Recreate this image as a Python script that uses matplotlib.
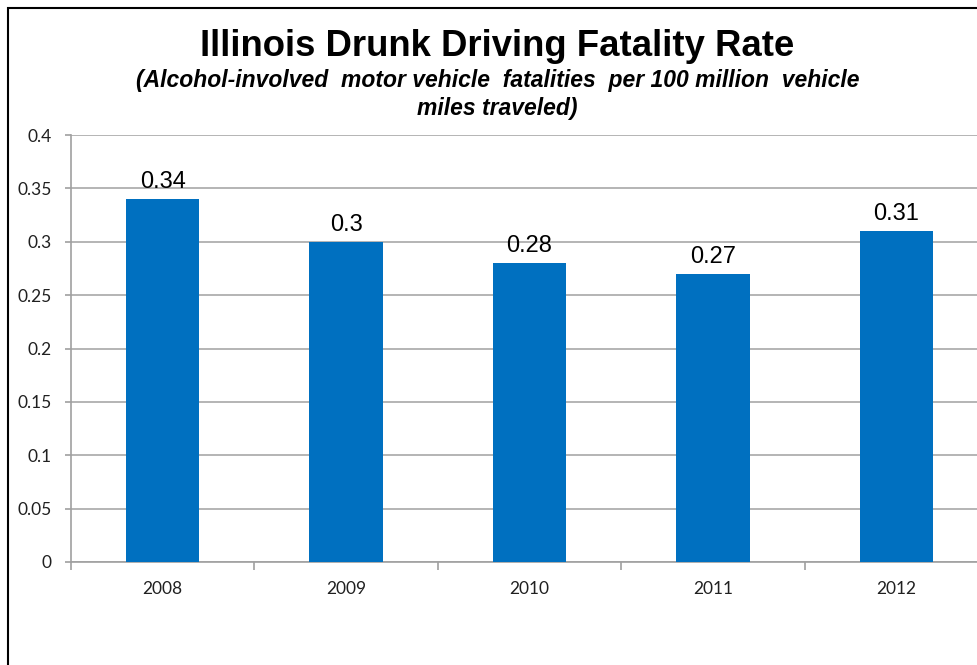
import matplotlib
matplotlib.use('Agg')
import matplotlib.pyplot as plt
from matplotlib.patches import Rectangle
from matplotlib.ticker import FixedLocator

# drunk driving fatality rate per 100 million VMT, Illinois
years = ['2008', '2009', '2010', '2011', '2012']
rates = [0.34, 0.30, 0.28, 0.27, 0.31]
rate_labels = ['0.34', '0.3', '0.28', '0.27', '0.31']
y_ticks = [0, 0.05, 0.1, 0.15, 0.2, 0.25, 0.3, 0.35, 0.4]
y_tick_labels = ['0', '0.05', '0.1', '0.15', '0.2', '0.25', '0.3', '0.35', '0.4']

W, H = 977, 665
fig = plt.figure(figsize=(W/100, H/100), dpi=100)

# outer chart border, runs off the right and bottom edges
fig.patches.append(Rectangle((8/W, -0.1), 1.2, 1.1 - 8/H, transform=fig.transFigure,
                             fill=False, edgecolor='black', lw=1.5))

ax = fig.add_axes([71/W, 103/H, 917/W, 427/H])
x = list(range(len(years)))
ax.bar(x, rates, width=0.4, color='#0070C0', zorder=3)
for xi, v, lab in zip(x, rates, rate_labels):
    ax.annotate(lab, (xi, v), xytext=(0, 8), textcoords='offset points',
                ha='center', va='baseline', fontsize=17, family='Liberation Sans', color='black')

ax.set_xlim(-0.5, len(years) - 0.5)
ax.set_ylim(0, 0.4)
ax.set_yticks(y_ticks)
ax.set_yticklabels(y_tick_labels, family='Lato', fontsize=12.5, color='#202020')
ax.set_xticks(x)
ax.set_xticklabels(years, family='Lato', fontsize=12.5, color='#202020')
ax.xaxis.set_minor_locator(FixedLocator([i + 0.5 for i in range(-1, len(years))]))
ax.tick_params(axis='x', which='major', length=0, pad=14)
ax.tick_params(axis='x', which='minor', length=6, color='#A0A0A0', width=1.2)
ax.tick_params(axis='y', length=4, color='#A0A0A0', width=1.2, pad=10)
ax.grid(axis='y', color='#A8A8A8', lw=1.2, zorder=0)
for side in ['top', 'right']:
    ax.spines[side].set_visible(False)
for side in ['left', 'bottom']:
    ax.spines[side].set_color('#A0A0A0')
    ax.spines[side].set_linewidth(1.2)

fig.text(497/W, 1 - 47/H, 'Illinois Drunk Driving Fatality Rate', ha='center', va='center',
         fontsize=26.3, fontweight='bold', family='Liberation Sans')
fig.text(498/W, 1 - 81/H, '(Alcohol-involved  motor vehicle  fatalities  per 100 million  vehicle',
         ha='center', va='center', fontsize=16.5, fontweight='bold', fontstyle='italic',
         family='Liberation Sans')
fig.text(497/W, 1 - 109/H, 'miles traveled)', ha='center', va='center', fontsize=16.5,
         fontweight='bold', fontstyle='italic', family='Liberation Sans')

fig.savefig('out.png', dpi=100)
